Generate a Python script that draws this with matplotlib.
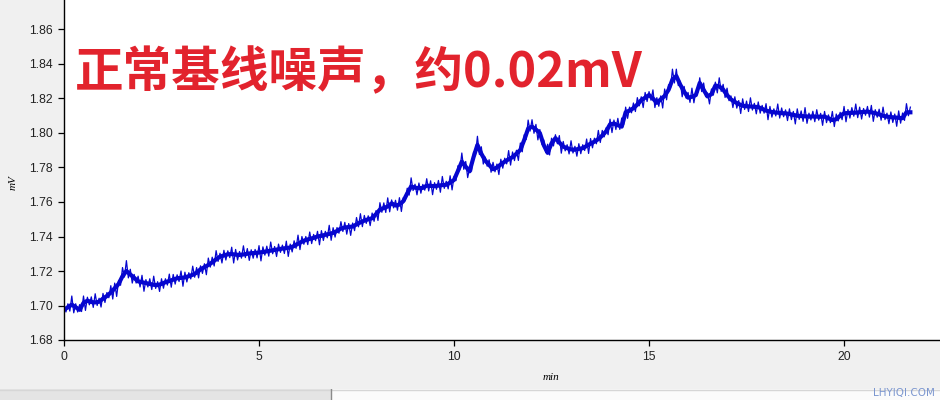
import numpy as np
import matplotlib
matplotlib.use("Agg")
import matplotlib.pyplot as plt

# ---- data ----
t_start, t_step = 0.0, 0.1
signal_mv = [
    1.6975, 1.6990, 1.7005, 1.6990, 1.6975, 1.7015, 1.7028, 1.7020, 1.7018, 1.7022,
    1.7040, 1.7055, 1.7075, 1.7100, 1.7125, 1.7170, 1.7200, 1.7180, 1.7160, 1.7140,
    1.7135, 1.7130, 1.7125, 1.7120, 1.7118, 1.7125, 1.7135, 1.7142, 1.7150, 1.7158,
    1.7160, 1.7163, 1.7170, 1.7178, 1.7190, 1.7210, 1.7222, 1.7235, 1.7250, 1.7268,
    1.7283, 1.7290, 1.7297, 1.7298, 1.7295, 1.7293, 1.7296, 1.7300, 1.7303, 1.7305,
    1.7307, 1.7310, 1.7314, 1.7318, 1.7322, 1.7326, 1.7330, 1.7333, 1.7336, 1.7345,
    1.7358, 1.7370, 1.7380, 1.7386, 1.7392, 1.7400, 1.7404, 1.7410, 1.7415, 1.7421,
    1.7432, 1.7446, 1.7452, 1.7455, 1.7458, 1.7470, 1.7482, 1.7492, 1.7500, 1.7506,
    1.7530, 1.7556, 1.7565, 1.7574, 1.7592, 1.7580, 1.7585, 1.7605, 1.7650, 1.7690,
    1.7683, 1.7680, 1.7682, 1.7695, 1.7693, 1.7692, 1.7695, 1.7698, 1.7700, 1.7712,
    1.7728, 1.7780, 1.7834, 1.7805, 1.7778, 1.7860, 1.7931, 1.7880, 1.7840, 1.7815,
    1.7790, 1.7800, 1.7818, 1.7834, 1.7848, 1.7860, 1.7880, 1.7902, 1.7960, 1.8025,
    1.8037, 1.8020, 1.8000, 1.7930, 1.7885, 1.7940, 1.7970, 1.7945, 1.7921, 1.7912,
    1.7905, 1.7903, 1.7908, 1.7912, 1.7925, 1.7938, 1.7950, 1.7965, 1.7985, 1.8010,
    1.8050, 1.8055, 1.8045, 1.8037, 1.8120, 1.8130, 1.8144, 1.8165, 1.8190, 1.8205,
    1.8220, 1.8200, 1.8175, 1.8195, 1.8215, 1.8250, 1.8310, 1.8330, 1.8280, 1.8240,
    1.8205, 1.8210, 1.8220, 1.8290, 1.8250, 1.8212, 1.8225, 1.8275, 1.8270, 1.8252,
    1.8220, 1.8195, 1.8180, 1.8168, 1.8158, 1.8155, 1.8154, 1.8152, 1.8150, 1.8140,
    1.8130, 1.8124, 1.8120, 1.8118, 1.8115, 1.8114, 1.8110, 1.8105, 1.8100, 1.8098,
    1.8097, 1.8095, 1.8096, 1.8095, 1.8094, 1.8095, 1.8085, 1.8075, 1.8080, 1.8100,
    1.8114, 1.8116, 1.8117, 1.8118, 1.8120, 1.8122, 1.8124, 1.8120, 1.8115, 1.8108,
    1.8100, 1.8095, 1.8092, 1.8090, 1.8088, 1.8086, 1.8120, 1.8120,
]
# half-amplitude of the noise band around the trace, in 0.001 mV
noise_half = [
    3, 2, 5, 2, 3, 4, 2, 3, 5, 2, 3, 2, 4, 3, 2, 5, 6, 3, 2, 3,
    4, 2, 3, 5, 2, 3, 2, 4, 3, 2, 4, 3, 2, 5, 3, 2, 2, 4, 3, 5,
    2, 3, 2, 4, 3, 2, 5, 3, 2, 2, 4, 3, 3, 5, 2, 3, 2, 4, 2, 3,
    5, 3, 2, 4, 2, 3, 3, 2, 5, 3, 2, 4, 3, 2, 2, 4, 5, 3, 2, 3,
    2, 4, 3, 5, 2, 3, 4, 2, 3, 5, 2, 3, 2, 4, 3, 2, 3, 5, 2, 4,
    2, 3, 5, 3, 2, 3, 5, 4, 2, 3, 4, 2, 3, 2, 5, 3, 2, 4, 3, 5,
    4, 3, 2, 3, 5, 3, 2, 4, 3, 2, 5, 2, 3, 2, 4, 3, 2, 5, 3, 2,
    3, 2, 4, 5, 3, 2, 3, 4, 2, 3, 2, 5, 3, 2, 4, 3, 6, 4, 2, 3,
    3, 5, 2, 3, 4, 2, 3, 2, 5, 3, 4, 2, 3, 2, 4, 3, 5, 2, 3, 2,
    4, 3, 2, 5, 3, 2, 3, 2, 4, 3, 5, 2, 3, 4, 2, 3, 2, 5, 3, 2,
    4, 2, 3, 5, 3, 2, 3, 4, 2, 3, 5, 2, 3, 2, 4, 3, 5, 3,
]
title_text = "正常基线噪声，约0.02mV"
xlabel_text = "min"
ylabel_text = "mV"
x_ticks = [0, 5, 10, 15, 20]
y_ticks = [1.68, 1.70, 1.72, 1.74, 1.76, 1.78, 1.80, 1.82, 1.84, 1.86]
watermark = "LHYIQI.COM"

# ---- build ----
sig = np.array(signal_mv)
nh = np.array(noise_half) / 1000.0
t = t_start + t_step * np.arange(len(sig))

# zigzag through upper and lower noise envelope
t_zig = np.empty(2 * len(t))
v_zig = np.empty(2 * len(t))
t_zig[0::2] = t
t_zig[1::2] = t + t_step / 2
sig_mid = np.interp(t + t_step / 2, t, sig)
nh_next = np.roll(nh, -3)
v_zig[0::2] = sig + nh
v_zig[1::2] = sig_mid - nh_next

W, H = 940, 400
fig = plt.figure(figsize=(W / 100, H / 100), dpi=100)
fig.patch.set_facecolor("#f0f0f0")

ax = fig.add_axes([64 / W, 60 / H, 1 - 64 / W, 1 - 60 / H])
ax.set_facecolor("white")
line_color = "#0606cf"
ax.plot(t, sig, color=line_color, lw=3.0, solid_joinstyle="round")
ax.plot(t_zig[:-1], v_zig[:-1], color=line_color, lw=0.9)

ax.set_xlim(0, 22.46)
ax.set_ylim(1.68, 1.68 + 340 * 0.02 / 34.5)
ax.set_xticks(x_ticks)
ax.set_yticks(y_ticks)
ax.set_yticklabels([f"{v:.2f}" for v in y_ticks])
for s in ("top", "right"):
    ax.spines[s].set_visible(False)
for s in ("left", "bottom"):
    ax.spines[s].set_color("black")
    ax.spines[s].set_linewidth(1.0)
ax.tick_params(direction="out", length=4.5, width=0.9, colors="black",
               labelsize=8.8, pad=3.5)
for lab in ax.get_xticklabels() + ax.get_yticklabels():
    lab.set_fontfamily("Liberation Sans")
    lab.set_color("#222222")

fig.text(551 / W, 1 - 377 / H, xlabel_text, fontsize=8, style="italic",
         family="Liberation Serif", ha="center", va="center")
fig.text(13 / W, 1 - 183 / H, ylabel_text, fontsize=8, style="italic",
         family="Liberation Serif", ha="center", va="center", rotation=90)

fig.text(75 / W, 1 - 73 / H, title_text, fontsize=35, fontweight="bold",
         color="#e2232d", family=["Noto Sans CJK SC", "DejaVu Sans"],
         ha="left", va="center")

# bottom status strip
strip = fig.add_axes([0, 0, 1, 11 / H])
strip.set_xlim(0, W)
strip.set_ylim(0, 11)
strip.axis("off")
strip.axhspan(0, 11, xmin=0, xmax=330 / W, color="#e4e4e4")
strip.axhspan(0, 11, xmin=332 / W, xmax=1, color="#fbfbfb")
strip.axhline(10.5, color="#d6d6d6", lw=1)
strip.axvline(331, color="#8a8a8a", lw=1)
fig.text(935 / W, 1 - 393 / H, watermark, fontsize=7.5, color="#7b96cf",
         family="DejaVu Sans", ha="right", va="center")

fig.savefig("out.png", dpi=100, facecolor=fig.get_facecolor())
